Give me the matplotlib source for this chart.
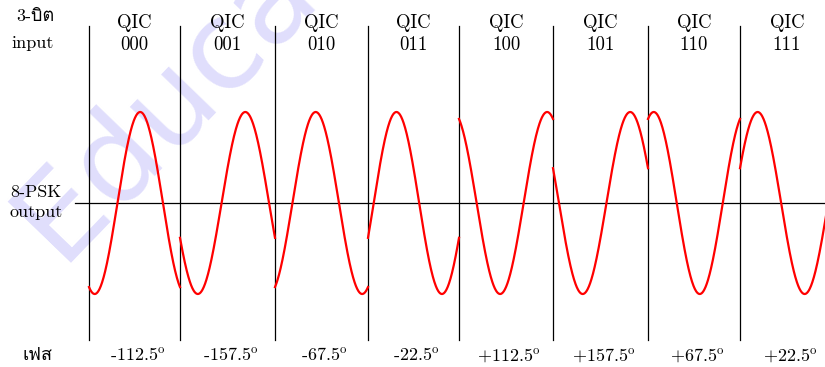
import numpy as np
import matplotlib
matplotlib.use('Agg')
import matplotlib.pyplot as plt

# data
bits = ['000', '001', '010', '011', '100', '101', '110', '111']
phases = [-112.5, -157.5, -67.5, -22.5, 112.5, 157.5, 67.5, 22.5]
phase_labels = ['-112.5', '-157.5', '-67.5', '-22.5', '+112.5', '+157.5', '+67.5', '+22.5']
edges = [89, 180, 275, 368, 459, 553, 648, 740, 834]

plt.rcParams['mathtext.fontset'] = 'cm'
fam = ['cmr10', 'Loma', 'DejaVu Serif']

fig = plt.figure(figsize=(8.25, 3.67), dpi=100)
ax = fig.add_axes([0, 0, 1, 1])
ax.set_xlim(0, 825)
ax.set_ylim(-164 / 91, 203 / 91)
ax.axis('off')

# watermark
ax.text(60, -0.66, 'Educa', fontsize=88, color='#e0defc', rotation=46,
        rotation_mode='anchor', ha='left', va='baseline',
        family='DejaVu Sans', zorder=0)

# horizontal axis
ax.plot([75, 825], [0, 0], color='black', lw=0.9, zorder=2)

for i in range(len(bits)):
    x0, x1 = edges[i], edges[i + 1]
    t = np.linspace(0, 1, 300)
    x = x0 + t * (x1 - x0)
    y = np.sin(2 * np.pi * t + np.deg2rad(phases[i]))
    ax.plot(x, y, color='red', lw=1.6, zorder=3)
    ax.plot([x0, x0], [-1.51, 1.95], color='black', lw=0.9, zorder=2)
    mid = (x0 + x1) / 2
    ax.text(mid, 1.98, 'QIC', family=fam, fontsize=13.5, ha='center', va='center')
    ax.text(mid, 1.74, bits[i], family=fam, fontsize=13.5, ha='center', va='center')
    ax.text(mid + 3, -1.67, phase_labels[i] + r'$^{\rm o}$', family=fam, fontsize=13,
            ha='center', va='center')

ax.text(35, 2.05, '3-บิต', family=fam, fontsize=13, ha='center', va='center')
ax.text(33, 1.76, 'input', family=fam, fontsize=13, ha='center', va='center')
ax.text(36, 0.12, '8-PSK', family=fam, fontsize=13, ha='center', va='center')
ax.text(36, -0.10, 'output', family=fam, fontsize=13, ha='center', va='center')
ax.text(37, -1.67, 'เฟส', family=fam, fontsize=13, ha='center', va='center')

fig.savefig('out.png', dpi=100)
